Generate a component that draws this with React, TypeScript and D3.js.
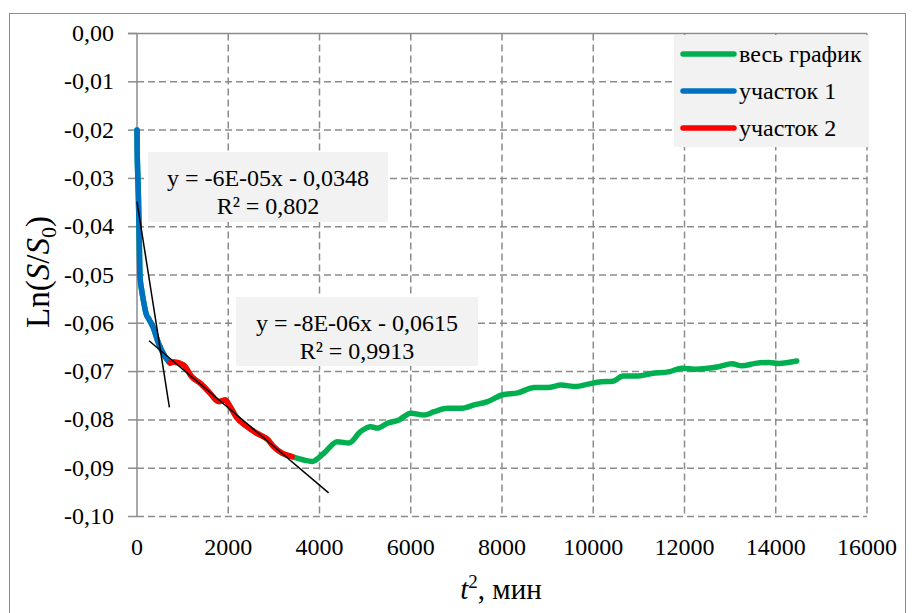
import { useEffect, useRef } from "react"
import * as d3 from 'd3'

// участок 1 (blue)
const seg1T = [0, 4, 16, 30, 45, 66, 100, 139, 200, 271, 352, 469, 615, 725]
const seg1Y = [-0.020, -0.024, -0.029, -0.0335, -0.040, -0.0504, -0.053, -0.0552, -0.058, -0.0593, -0.0608, -0.0641, -0.0669, -0.0682]
// участок 2 (red)
const seg2T = [725, 800, 1018, 1202, 1385, 1604, 1784, 1934, 2044, 2190, 2410, 2630, 2879, 2989, 3180, 3400]
const seg2Y = [-0.0682, -0.0680, -0.0686, -0.0711, -0.0724, -0.0745, -0.0762, -0.0759, -0.0773, -0.0796, -0.0814, -0.0828, -0.0842, -0.0855, -0.0869, -0.0876]
// rest of the full curve (green)
const tailT = [3400, 3655, 3839, 4095, 4388, 4644, 4901, 5121, 5267, 5487, 5743, 6000, 6293, 6513, 6806, 7099, 7392, 7685, 8015, 8345, 8711, 9004, 9297, 9626, 9883, 10176, 10433, 10652, 10982, 11275, 11677, 11941, 12234, 12747, 13040, 13260, 13553, 13846, 14066, 14461]
const tailY = [-0.0876, -0.0883, -0.0886, -0.0869, -0.0845, -0.0848, -0.0824, -0.0814, -0.0817, -0.0807, -0.0800, -0.0786, -0.0790, -0.0783, -0.0776, -0.0776, -0.0769, -0.0762, -0.0748, -0.0744, -0.0733, -0.0733, -0.0728, -0.0731, -0.0726, -0.0721, -0.0720, -0.0709, -0.0709, -0.0704, -0.0700, -0.0693, -0.0695, -0.0690, -0.0684, -0.0688, -0.0683, -0.0681, -0.0683, -0.0678]

const xTicks = [0, 2000, 4000, 6000, 8000, 10000, 12000, 14000, 16000]
const yTicks = [0, -0.01, -0.02, -0.03, -0.04, -0.05, -0.06, -0.07, -0.08, -0.09, -0.10]

const trendSlopes = [-6e-5, -8e-6]
const trendIntercepts = [-0.0348, -0.0615]
const trendFrom = [0, 264]
const trendTo = [710, 4200]
const trendEq = ["y = -6E-05x - 0,0348", "y = -8E-06x - 0,0615"]
const trendR2 = ["R² = 0,802", "R² = 0,9913"]

const legendNames = ["весь график", "участок 1", "участок 2"]
const legendColors = ["#00b050", "#0070c0", "#ff0000"]

const FONT = "'Times New Roman', 'Liberation Serif', 'DejaVu Serif', serif"

export default function App() {
    const svgRef = useRef<SVGSVGElement>(null)

    useEffect(() => {
        const svg = d3.select(svgRef.current)
            .attr('font-family', FONT)
        svg.selectAll("*").remove()

        const x = d3.scaleLinear().domain([0, 16000]).range([137, 867])
        const y = d3.scaleLinear().domain([-0.10, 0]).range([516.5, 33.5])
        const grid = "#8c8c8c"

        // outer chart border
        svg.append('rect')
            .attr('x', 9.5).attr('y', 13.5).attr('width', 896).attr('height', 620)
            .attr('fill', '#fff').attr('stroke', '#8c8c8c').attr('stroke-width', 1)

        // gridlines
        svg.append('g').selectAll('line')
            .data(yTicks.filter(d => d !== 0))
            .join('line')
            .attr('x1', x(0)).attr('x2', x(16000))
            .attr('y1', d => y(d)).attr('y2', d => y(d))
            .attr('stroke', grid).attr('stroke-width', 1.5).attr('stroke-dasharray', '7,4')
        svg.append('g').selectAll('line')
            .data(xTicks.filter(d => d !== 0))
            .join('line')
            .attr('x1', d => x(d)).attr('x2', d => x(d))
            .attr('y1', y(0)).attr('y2', y(-0.10))
            .attr('stroke', grid).attr('stroke-width', 1.5).attr('stroke-dasharray', '7,4')

        // axes lines (y axis at left, x axis crossing at top)
        svg.append('line')
            .attr('x1', x(0)).attr('x2', x(0)).attr('y1', y(0)).attr('y2', y(-0.10))
            .attr('stroke', grid).attr('stroke-width', 1.5)
        svg.append('line')
            .attr('x1', x(0) - 9).attr('x2', x(16000)).attr('y1', y(0)).attr('y2', y(0))
            .attr('stroke', grid).attr('stroke-width', 1.5)
        svg.append('g').selectAll('line')
            .data(yTicks)
            .join('line')
            .attr('x1', x(0) - 9).attr('x2', x(0))
            .attr('y1', d => y(d)).attr('y2', d => y(d))
            .attr('stroke', grid).attr('stroke-width', 1.5)

        // tick labels
        const fmt = (d: number) => d3.format('.2f')(d).replace('.', ',').replace('−', '-')
        svg.append('g').selectAll('text')
            .data(yTicks)
            .join('text')
            .attr('x', 114).attr('y', d => y(d) + 7.5)
            .attr('text-anchor', 'end')
            .attr('font-size', 24)
            .text(d => d === 0 ? '0,00' : fmt(d))
        svg.append('g').selectAll('text')
            .data(xTicks)
            .join('text')
            .attr('x', d => x(d)).attr('y', 555)
            .attr('text-anchor', 'middle')
            .attr('font-size', 24)
            .text(d => String(d))

        // axis titles
        const yTitle = svg.append('text')
            .attr('transform', 'translate(49,272) rotate(-90)')
            .attr('text-anchor', 'middle')
            .attr('font-size', 33)
        yTitle.append('tspan').text('Ln(')
        yTitle.append('tspan').attr('font-style', 'italic').text('S')
        yTitle.append('tspan').text('/')
        yTitle.append('tspan').attr('font-style', 'italic').text('S')
        yTitle.append('tspan').attr('dy', 7).attr('font-size', 22).text('0')
        yTitle.append('tspan').attr('dy', -7).text(')')

        const xTitle = svg.append('text')
            .attr('x', 501).attr('y', 599)
            .attr('text-anchor', 'middle')
            .attr('font-size', 29)
        xTitle.append('tspan').attr('font-style', 'italic').text('t')
        xTitle.append('tspan').attr('dy', -11).attr('font-size', 19).text('2')
        xTitle.append('tspan').attr('dy', 11).text(', мин')

        // curves
        const line = d3.line<[number, number]>()
            .x(d => x(d[0]))
            .y(d => y(d[1]))
            .curve(d3.curveMonotoneX)
        const zip = (a: number[], b: number[]) => a.map((v, i) => [v, b[i]] as [number, number])
        const full = [...zip(seg1T, seg1Y), ...zip(seg2T, seg2Y).slice(1), ...zip(tailT, tailY).slice(1)]
        const series = [full, zip(seg1T, seg1Y), zip(seg2T, seg2Y)]
        svg.append('g').selectAll('path')
            .data(series)
            .join('path')
            .attr('d', d => line(d))
            .attr('fill', 'none')
            .attr('stroke', (_, i) => legendColors[i])
            .attr('stroke-width', 5.5)
            .attr('stroke-linejoin', 'round')
            .attr('stroke-linecap', 'round')

        // trendlines
        svg.append('g').selectAll('line')
            .data(trendSlopes)
            .join('line')
            .attr('x1', (_, i) => x(trendFrom[i]))
            .attr('x2', (_, i) => x(trendTo[i]))
            .attr('y1', (s, i) => y(s * trendFrom[i] + trendIntercepts[i]))
            .attr('y2', (s, i) => y(s * trendTo[i] + trendIntercepts[i]))
            .attr('stroke', '#000').attr('stroke-width', 1.5)

        // trendline labels
        const boxes = [{ x: 148, y: 152, w: 240, h: 70 }, { x: 236, y: 297, w: 242, h: 69 }]
        boxes.forEach((b, i) => {
            const g = svg.append('g')
            g.append('rect').attr('x', b.x).attr('y', b.y).attr('width', b.w).attr('height', b.h).attr('fill', '#f2f2f2')
            g.append('text')
                .attr('x', b.x + b.w / 2).attr('y', b.y + 34)
                .attr('text-anchor', 'middle')
                .attr('font-size', 24)
                .text(trendEq[i])
            g.append('text')
                .attr('x', b.x + b.w / 2).attr('y', b.y + 62)
                .attr('text-anchor', 'middle')
                .attr('font-size', 24)
                .text(trendR2[i])
        })

        // legend
        const legend = svg.append('g')
        legend.append('rect').attr('x', 674).attr('y', 35).attr('width', 195).attr('height', 112).attr('fill', '#f2f2f2')
        legendNames.forEach((name, i) => {
            const ly = 54 + i * 37
            legend.append('line')
                .attr('x1', 683).attr('x2', 734).attr('y1', ly).attr('y2', ly)
                .attr('stroke', legendColors[i]).attr('stroke-width', 5.5).attr('stroke-linecap', 'round')
            legend.append('text')
                .attr('x', 739).attr('y', ly + 8)
                .attr('font-size', 24)
                .text(name)
        })
    }, [])

    return (
        <svg ref={svgRef} width={914} height={613}
            style={{ position: 'absolute', left: 0, top: 0, background: '#fff' }}></svg>
    )
}
